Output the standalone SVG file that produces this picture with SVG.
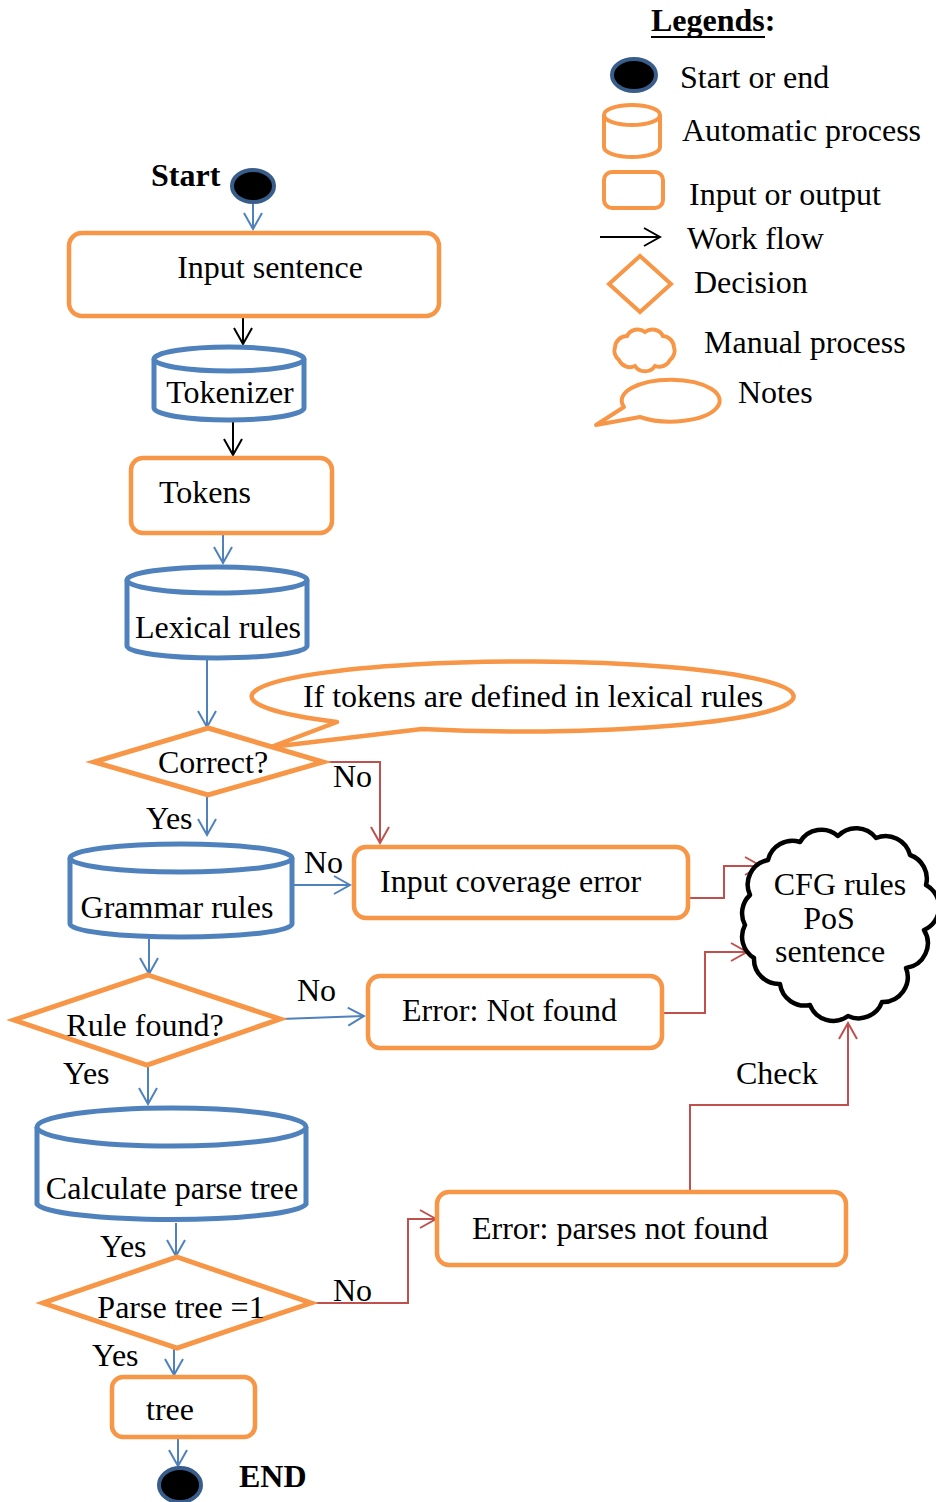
<svg xmlns="http://www.w3.org/2000/svg" width="936" height="1502" viewBox="0 0 936 1502">
  <style>
    .t { font-family: "Liberation Serif", "Times New Roman", serif; font-size: 32px; fill: #000; }
    .b { font-weight: bold; }
    .io { fill: #fff; stroke: #F79646; stroke-width: 4.5; }
    .cyl { fill: #fff; stroke: #4F81BD; stroke-width: 5; }
    .dec { fill: #fff; stroke: #F79646; stroke-width: 5; stroke-linejoin: miter; }
    .term { fill: #000; stroke: #385D8A; stroke-width: 4; }
    .cloud { fill: #fff; stroke: #000; stroke-width: 4.5; stroke-linejoin: round; }
    .fb { fill: none; stroke: #4F81BD; stroke-width: 2; marker-end: url(#ab); }
    .fk { fill: none; stroke: #000; stroke-width: 2; marker-end: url(#ak); }
    .fr { fill: none; stroke: #C0504D; stroke-width: 2; marker-end: url(#ar); }
  </style>
  <defs>
    <marker id="ab" markerUnits="userSpaceOnUse" viewBox="-18 -11 20 22" refX="0" refY="0" markerWidth="20" markerHeight="22" orient="auto">
      <path d="M -16 -9 L 0 0 L -16 9" fill="none" stroke="#4F81BD" stroke-width="2"/>
    </marker>
    <marker id="ak" markerUnits="userSpaceOnUse" viewBox="-18 -11 20 22" refX="0" refY="0" markerWidth="20" markerHeight="22" orient="auto">
      <path d="M -16 -9 L 0 0 L -16 9" fill="none" stroke="#000" stroke-width="2"/>
    </marker>
    <marker id="ar" markerUnits="userSpaceOnUse" viewBox="-18 -11 20 22" refX="0" refY="0" markerWidth="20" markerHeight="22" orient="auto">
      <path d="M -16 -9 L 0 0 L -16 9" fill="none" stroke="#C0504D" stroke-width="2"/>
    </marker>
  </defs>
  <rect width="936" height="1502" fill="#fff"/>

  <!-- legend -->
  <g id="legend">
    <text class="t b" x="651" y="31">Legends:</text>
    <line x1="651" y1="37" x2="765" y2="37" stroke="#000" stroke-width="2"/>
    <ellipse class="term" cx="634" cy="75" rx="22" ry="16"/>
    <text class="t" x="680" y="88">Start or end</text>
    <path d="M 604 115 L 604 147 A 28 10 0 0 0 660 147 L 660 115" fill="#fff" stroke="#F79646" stroke-width="4"/>
    <ellipse cx="632" cy="115" rx="28" ry="10" fill="#fff" stroke="#F79646" stroke-width="4"/>
    <text class="t" x="682" y="141">Automatic process</text>
    <rect x="604" y="172" width="59" height="36" rx="8" fill="#fff" stroke="#F79646" stroke-width="4"/>
    <text class="t" x="689" y="205">Input or output</text>
    <line x1="600" y1="237" x2="660" y2="237" class="fk"/>
    <text class="t" x="687" y="249">Work flow</text>
    <path d="M 640 256 L 671 284 L 640 312 L 609 284 Z" fill="#fff" stroke="#F79646" stroke-width="4"/>
    <text class="t" x="694" y="293">Decision</text>
    <path d="M 615 347 A 12 12 0 0 1 627 336 A 12 12 0 0 1 645 332 A 12 12 0 0 1 663 336 A 12 12 0 0 1 674 347 A 12 12 0 0 1 670 360 A 12 12 0 0 1 655 366 A 12 12 0 0 1 635 366 A 12 12 0 0 1 619 360 A 12 12 0 0 1 615 347 Z" fill="#fff" stroke="#F79646" stroke-width="4"/>
    <text class="t" x="704" y="353">Manual process</text>
    <path d="M 640 417 A 49 21 0 1 0 624 407 L 596 425 Z" fill="#fff" stroke="#F79646" stroke-width="4" stroke-linejoin="round"/>
    <text class="t" x="738" y="403">Notes</text>
  </g>

  <!-- connectors -->
  <g id="connectors">
    <line class="fb" x1="253" y1="203" x2="253" y2="229"/>
    <line class="fk" x1="243" y1="318" x2="243" y2="344"/>
    <line class="fk" x1="233" y1="421" x2="233" y2="455"/>
    <line class="fb" x1="223" y1="535" x2="223" y2="563"/>
    <line class="fb" x1="207" y1="660" x2="207" y2="727"/>
    <line class="fb" x1="207" y1="797" x2="207" y2="835"/>
    <polyline class="fr" points="323,762 380,762 380,843"/>
    <line class="fb" x1="293" y1="885" x2="350" y2="885"/>
    <line class="fb" x1="149" y1="939" x2="149" y2="974"/>
    <line class="fb" x1="281" y1="1019" x2="364" y2="1016"/>
    <line class="fb" x1="148" y1="1067" x2="148" y2="1104"/>
    <line class="fb" x1="176" y1="1223" x2="176" y2="1256"/>
    <line class="fb" x1="174" y1="1349" x2="174" y2="1375"/>
    <line class="fb" x1="178" y1="1439" x2="178" y2="1466"/>
    <polyline class="fr" points="688,898 724,898 724,866 761,866"/>
    <polyline class="fr" points="662,1013 705,1013 705,952 747,952"/>
    <polyline class="fr" points="312,1303 408,1303 408,1219 436,1219"/>
    <polyline class="fr" points="690,1191 690,1105 848,1105 848,1023"/>
    <text class="t" x="333" y="787">No</text>
    <text class="t" x="146" y="829">Yes</text>
    <text class="t" x="304" y="873">No</text>
    <text class="t" x="297" y="1001">No</text>
    <text class="t" x="63" y="1084">Yes</text>
    <text class="t" x="736" y="1084">Check</text>
    <text class="t" x="100" y="1257">Yes</text>
    <text class="t" x="333" y="1301">No</text>
    <text class="t" x="92" y="1366">Yes</text>
  </g>

  <g id="start">
    <text class="t b" x="151" y="186">Start</text>
    <ellipse class="term" cx="253" cy="186" rx="21" ry="16"/>
  </g>

  <g id="input-sentence">
    <rect class="io" x="69" y="233" width="370" height="83" rx="13"/>
    <text class="t" x="270" y="278" text-anchor="middle">Input sentence</text>
  </g>

  <g id="tokenizer">
    <path class="cyl" d="M 154 359 L 154 408 A 75 12 0 0 0 304 408 L 304 359"/>
    <ellipse class="cyl" cx="229" cy="359" rx="75" ry="12"/>
    <text class="t" x="230" y="403" text-anchor="middle">Tokenizer</text>
  </g>

  <g id="tokens">
    <rect class="io" x="131" y="458" width="201" height="75" rx="12"/>
    <text class="t" x="159" y="503">Tokens</text>
  </g>

  <g id="lexical-rules">
    <path class="cyl" d="M 127 580 L 127 646 A 90 12 0 0 0 307 646 L 307 580"/>
    <ellipse class="cyl" cx="217" cy="580" rx="90" ry="13"/>
    <text class="t" x="218" y="638" text-anchor="middle">Lexical rules</text>
  </g>

  <g id="note">
    <path d="M 422 729 A 271 35 0 1 0 337 722 L 271 747 Z" fill="#fff" stroke="#F79646" stroke-width="4.5" stroke-linejoin="round"/>
    <text class="t" x="533" y="707" text-anchor="middle">If tokens are defined in lexical rules</text>
  </g>

  <g id="correct">
    <path class="dec" d="M 208 728 L 323 762 L 208 795 L 94 762 Z"/>
    <text class="t" x="213" y="773" text-anchor="middle">Correct?</text>
  </g>

  <g id="grammar-rules">
    <path class="cyl" d="M 70 858 L 70 924 A 111 13 0 0 0 292 924 L 292 858"/>
    <ellipse class="cyl" cx="181" cy="858" rx="111" ry="14"/>
    <text class="t" x="177" y="918" text-anchor="middle">Grammar rules</text>
  </g>

  <g id="input-coverage-error">
    <rect class="io" x="354" y="847" width="334" height="71" rx="12"/>
    <text class="t" x="380" y="892">Input coverage error</text>
  </g>

  <g id="cfg-rules">
    <path class="cloud" d="M 750 895 A 25 25 0 0 1 768 860 A 25 25 0 0 1 800 842 A 25 25 0 0 1 838 836 A 25 25 0 0 1 876 838 A 25 25 0 0 1 910 855 A 25 25 0 0 1 926 885 A 25 25 0 0 1 924 930 A 25 25 0 0 1 906 968 A 25 25 0 0 1 882 1002 A 25 25 0 0 1 848 1016 A 25 25 0 0 1 810 1005 A 25 25 0 0 1 780 984 A 25 25 0 0 1 754 958 A 25 25 0 0 1 745 925 A 25 25 0 0 1 750 895 Z"/>
    <text class="t" x="840" y="895" text-anchor="middle">CFG rules</text>
    <text class="t" x="829" y="929" text-anchor="middle">PoS</text>
    <text class="t" x="830" y="962" text-anchor="middle">sentence</text>
  </g>

  <g id="rule-found">
    <path class="dec" d="M 148 975 L 280 1019 L 147 1065 L 14 1020 Z"/>
    <text class="t" x="145" y="1036" text-anchor="middle">Rule found?</text>
  </g>

  <g id="error-not-found">
    <rect class="io" x="368" y="976" width="294" height="72" rx="12"/>
    <text class="t" x="402" y="1021">Error: Not found</text>
  </g>

  <g id="calculate-parse-tree">
    <path class="cyl" d="M 37 1127 L 37 1204 A 135 17 0 0 0 306 1204 L 306 1127"/>
    <ellipse class="cyl" cx="171.500" cy="1127" rx="134.500" ry="19"/>
    <text class="t" x="172" y="1199" text-anchor="middle">Calculate parse tree</text>
  </g>

  <g id="parse-tree">
    <path class="dec" d="M 177 1257 L 311 1303 L 177 1348 L 43 1303 Z"/>
    <text class="t" x="181" y="1318" text-anchor="middle">Parse tree =1</text>
  </g>

  <g id="error-parses">
    <rect class="io" x="437" y="1192" width="409" height="73" rx="12"/>
    <text class="t" x="472" y="1239">Error: parses not found</text>
  </g>

  <g id="tree">
    <rect class="io" x="112" y="1377" width="143" height="60" rx="11"/>
    <text class="t" x="146" y="1420">tree</text>
  </g>

  <g id="end">
    <ellipse class="term" cx="180" cy="1485" rx="21" ry="17"/>
    <text class="t b" x="239" y="1487">END</text>
  </g>
</svg>
